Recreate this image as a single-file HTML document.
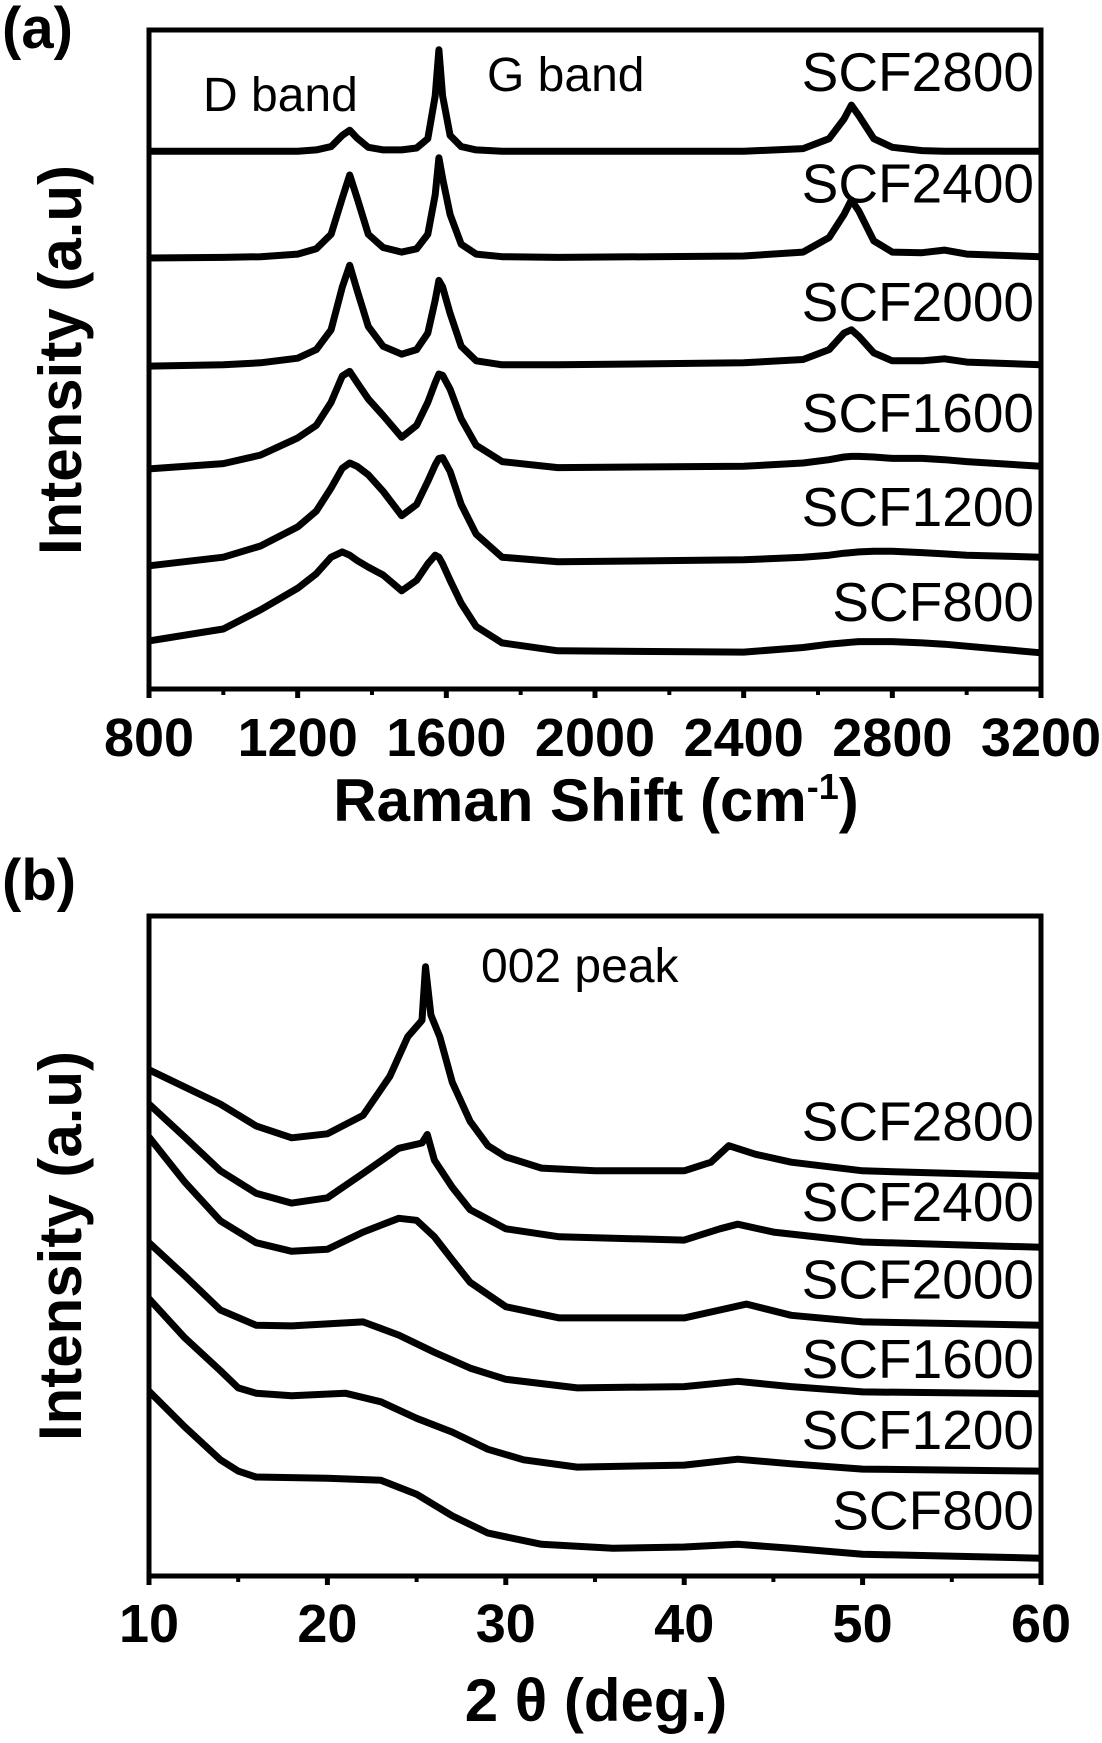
<!DOCTYPE html>
<html><head><meta charset="utf-8"><style>
html,body{margin:0;padding:0;background:#fff;}
svg{display:block;font-family:"Liberation Sans",Arial,sans-serif;}
</style></head><body>
<svg id="fig" width="1102" height="1743" viewBox="0 0 1102 1743" xmlns="http://www.w3.org/2000/svg">
<text x="2" y="48" font-size="58" font-weight="bold">(a)</text>
<text x="2" y="900" font-size="58" font-weight="bold">(b)</text>
<g id="pa"></g>
<g id="pb"></g>
</svg>
<script>
// ---- Panel (a) Raman data ----
const ramanX = [800,1000,1100,1200,1250,1290,1320,1340,1360,1390,1430,1480,1520,1550,1570,1580,1590,1610,1640,1680,1750,1900,2400,2560,2630,2670,2690,2710,2750,2800,2880,2940,3000,3200];
const raman2800 = [81.6,81.6,81.6,81.6,81.8,82.3,84,84.8,83.6,82.2,81.8,81.8,82.1,83.5,90,97,90,84,82.3,81.8,81.6,81.6,81.6,82,83.5,86.5,88.6,87,83.5,82.2,81.7,81.6,81.6,81.6];
const raman2400 = [65.4,65.5,65.6,66.0,66.8,69,74.5,78,74.5,69,67,66.3,66.8,69,75,80.6,77.5,72,67.5,66,65.6,65.5,65.7,66.3,68.5,72,74.2,72.5,68,66.3,66.2,66.6,66.0,65.6];
const raman2000 = [49,49.2,49.5,50.2,51.5,54.5,61,64.3,60.5,55,52,50.8,51.5,54,59,62,61,57,52,49.8,49.2,49.2,49.5,50,51.5,54,54.5,53.5,51,49.8,49.8,50.1,49.6,49.2];
const raman1600 = [33.4,34.2,35.5,38.1,40,43.5,47.5,48.2,46.5,44,41.5,38.2,40,43.5,46.5,47.8,47.6,45.5,41,37,34.5,33.6,33.8,34.3,34.8,35.2,35.3,35.3,35.2,35,35,34.8,34.5,33.8];
const raman1200 = [18.7,20,21.7,24.6,27,30.5,33.5,34.3,33.8,32.5,30,26.3,28,31.5,34,35,35.1,33,28,23.5,20,19.3,19.6,20,20.3,20.6,20.7,20.8,20.9,20.9,20.7,20.5,20.3,20.0];
const raman800 = [7.3,9.1,12,15.3,17.5,20,20.8,20.3,19.5,18.5,17.3,14.9,16.5,19,20.3,20,19,16.5,13,9.5,7,5.8,5.6,6.3,6.8,7,7.1,7.2,7.2,7.2,7,6.8,6.5,5.5];
const ramanSeries = [raman2800,raman2400,raman2000,raman1600,raman1200,raman800];
const ramanNames = ["SCF2800","SCF2400","SCF2000","SCF1600","SCF1200","SCF800"];
const ramanLabelY = [93.6,76.7,58.7,41.9,27.6,13.2];
const ramanTicks = [800,1200,1600,2000,2400,2800,3200];
const ramanMinor = [1000,1400,1800,2200,2600,3000];
// ---- Panel (b) XRD data ----
const xrdX2800 = [10,14,16,18,20,22,23.5,24.5,25.3,25.5,25.8,26.3,27,28,29,30,32,35,40,41.5,42.5,44,46,50,55,60];
const xrd2800 = [76.7,71.5,68.2,66.4,67,69.8,75.7,81.7,84.2,92.3,85,81.7,74.8,68.9,65.2,63.5,61.8,61.4,61.4,62.7,65.2,63.9,62.7,61.4,61,60.6];
const xrdX2400 = [10,12,14,16,18,20,22,24,25.3,25.6,26,27,28,30,33,40,42,43,45,50,60];
const xrd2400 = [71.5,66.5,61.4,58,56.5,57.3,61,64.8,65.6,66.9,63,58.9,55.5,52.6,51.4,50.9,52.6,53.3,52.1,50.6,49.8];
const xrdX2000 = [10,12,14,16,18,20,22,24,25,26,27,28,30,33,40,42,43.5,46,50,60];
const xrd2000 = [66.5,59.7,53.8,50.5,49.2,49.5,52.1,54.2,53.9,51.4,47.9,44.5,40.8,39.1,39.1,40.3,41.2,39.5,38.5,38];
const xrdX1600 = [10,12,14,16,18,20,22,24,26,28,30,34,40,43,46,50,60];
const xrd1600 = [50.5,45.5,40.3,38,37.9,38.2,38.5,36.5,33.9,31.5,29.8,28.5,28.7,29.5,28.7,27.9,27.6];
const xrdX1200 = [10,12,14,15,16,18,21,23,25,27,29,31,34,40,43,46,50,60];
const xrd1200 = [42,36.1,31.1,28.5,27.7,27.3,27.7,26.4,23.9,21.8,19.2,17.6,16.5,16.8,17.7,17,16.2,15.9];
const xrdX800 = [10,12,14,15,16,20,23,25,27,29,32,36,40,43,46,50,60];
const xrd800 = [28,22.6,17.6,15.9,15,14.8,14.5,12.4,9.1,6.5,4.8,4.2,4.4,4.8,4.2,3.3,2.7];
const xrdXs = [xrdX2800,xrdX2400,xrdX2000,xrdX1600,xrdX1200,xrdX800];
const xrdSeries = [xrd2800,xrd2400,xrd2000,xrd1600,xrd1200,xrd800];
const xrdNames = ["SCF2800","SCF2400","SCF2000","SCF1600","SCF1200","SCF800"];
const xrdLabelY = [68.9,56.7,44.9,32.9,22.1,9.9];
const xrdTicks = [10,20,30,40,50,60];
const xrdMinor = [15,25,35,45,55];

const NS="http://www.w3.org/2000/svg";
function mk(parent,tag,attrs){const e=document.createElementNS(NS,tag);for(const k in attrs)e.setAttribute(k,attrs[k]);parent.appendChild(e);return e;}

function drawPanel(g,o){
  const L=149,R=1041,T=o.top,B=o.bottom;
  const sx=v=>L+(v-o.xmin)/(o.xmax-o.xmin)*(R-L);
  const sy=v=>B-v/100*(B-T);
  const frame=mk(g,'rect',{x:L,y:T,width:R-L,height:B-T,fill:'none',stroke:'#000','stroke-width':5});
  
  
  o.ticks.forEach(t=>{
    const tk=mk(g,'line',{x1:sx(t),x2:sx(t),y1:B,y2:B+9,stroke:'#000','stroke-width':5});
    
    
    const tl=mk(g,'text',{x:sx(t),y:o.tickBase,'text-anchor':'middle','font-size':54,'font-weight':'bold'});
    tl.textContent=t;
    
    
  });
  o.minor.forEach(t=>{
    const tk=mk(g,'line',{x1:sx(t),x2:sx(t),y1:B,y2:B+6,stroke:'#000','stroke-width':4});
    
    
  });
  o.series.forEach((ys,i)=>{
    const xs=o.xs[i];
    const d=ys.map((v,j)=>(j?'L':'M')+sx(xs[j]).toFixed(1)+' '+sy(v).toFixed(1)).join(' ');
    const p=mk(g,'path',{d:d,fill:'none',stroke:'#000','stroke-width':7,'stroke-linejoin':'round'});
    
    
    const lb=mk(g,'text',{x:1034,y:sy(o.labelY[i])+19,'text-anchor':'end','font-size':55});
    lb.textContent=o.names[i];
    
    
  });
  const xt=mk(g,'text',{x:596,y:o.titleBase,'text-anchor':'middle','font-size':60,'font-weight':'bold'});
  xt.innerHTML=o.xtitle;
  
  
  const cy=o.ycenter;
  const yt=mk(g,'text',{x:0,y:0,transform:'translate(81,'+cy+') rotate(-90)','text-anchor':'middle','font-size':60,'font-weight':'bold'});
  yt.textContent='Intensity (a.u)';
  
  
  return {sx,sy};
}

const pa=document.getElementById('pa');
drawPanel(pa,{top:30,bottom:689,xmin:800,xmax:3200,ticks:ramanTicks,minor:ramanMinor,tickBase:756,
  xs:ramanSeries.map(()=>ramanX),series:ramanSeries,names:ramanNames,labelY:ramanLabelY,
  xtitle:'Raman Shift (cm<tspan dy="-22" font-size="36">-1</tspan><tspan dy="22">)</tspan>',titleBase:821,ycenter:360});
let t=mk(pa,'text',{x:203,y:111,'font-size':48});t.textContent='D band';


t=mk(pa,'text',{x:487,y:91,'font-size':48});t.textContent='G band';



const pb=document.getElementById('pb');
drawPanel(pb,{top:916,bottom:1576,xmin:10,xmax:60,ticks:xrdTicks,minor:xrdMinor,tickBase:1642,
  xs:xrdXs,series:xrdSeries,names:xrdNames,labelY:xrdLabelY,
  xtitle:'2 θ (deg.)',titleBase:1721,ycenter:1246});
t=mk(pb,'text',{x:481,y:982,'font-size':48});t.textContent='002 peak';


</script>
</body></html>
